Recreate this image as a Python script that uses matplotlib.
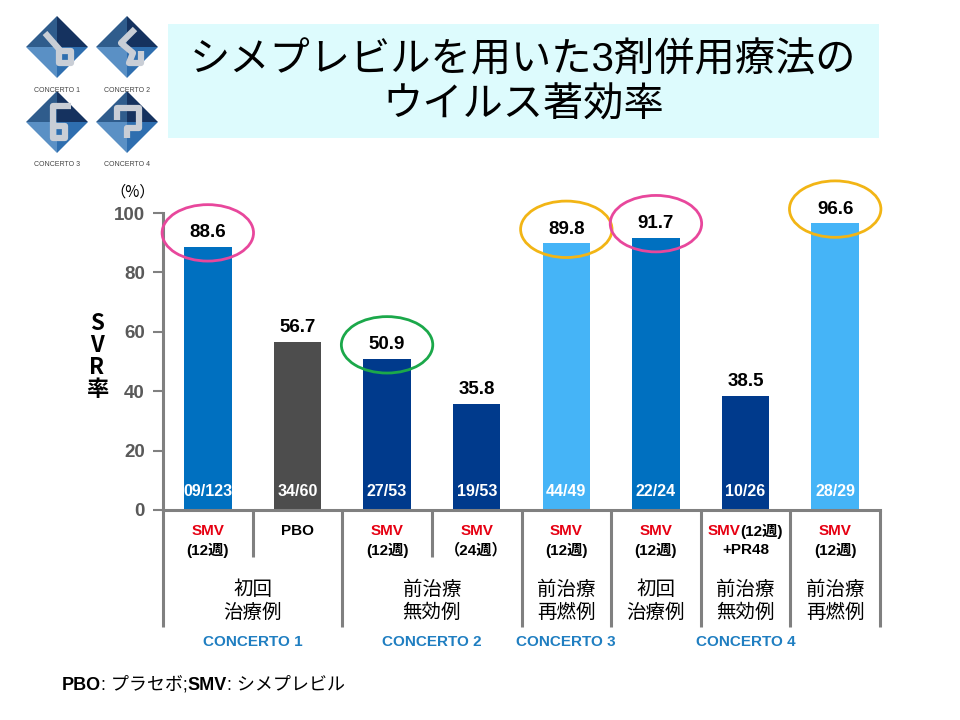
import numpy as np
import matplotlib.pyplot as plt
from matplotlib.patches import Ellipse, Rectangle, Polygon

plt.rcParams['font.family'] = ['Liberation Sans', 'Noto Sans CJK JP']

# data
values = [88.6, 56.7, 50.9, 35.8, 89.8, 91.7, 38.5, 96.6]
fractions = ['09/123', '34/60', '27/53', '19/53', '44/49', '22/24', '10/26', '28/29']
bar_colors = ['#0070C0', '#4D4D4D', '#003A8C', '#003A8C', '#45B4F7', '#0070C0', '#003A8C', '#45B4F7']
drug_top = ['SMV', 'PBO', 'SMV', 'SMV', 'SMV', 'SMV', 'SMV(12週)', 'SMV']
drug_bottom = ['(12週)', '', '(12週)', '（24週）', '(12週)', '(12週)', '+PR48', '(12週)']
groups = ['初回\n治療例', '前治療\n無効例', '前治療\n再燃例', '初回\n治療例', '前治療\n無効例', '前治療\n再燃例']
group_span = [(0, 2), (2, 4), (4, 5), (5, 6), (6, 7), (7, 8)]
studies = ['CONCERTO 1', 'CONCERTO 2', 'CONCERTO 3', 'CONCERTO 4']
study_span = [(0, 2), (2, 4), (4, 5), (5, 8)]
circled = {0: '#E8479C', 2: '#1BA84A', 4: '#F2B515', 5: '#E8479C', 7: '#F2B515'}

W, H = 960, 720
RED = '#E60012'
GREY = '#808080'
BLUE_TXT = '#1F7EC1'

fig = plt.figure(figsize=(W / 100, H / 100), dpi=100)

# title box
fig.patches.append(Rectangle((168 / W, 1 - 138 / H), 711 / W, 114 / H,
                             transform=fig.transFigure, facecolor='#DDFBFD', edgecolor='none', zorder=0))
fig.text(523 / W, 1 - 60 / H, 'シメプレビルを用いた3剤併用療法の', ha='center', va='center', fontsize=29)
fig.text(523 / W, 1 - 106 / H, 'ウイルス著効率', ha='center', va='center', fontsize=29)

# logos
lax = fig.add_axes([0, 1 - 180 / H, 170 / W, 180 / H])
lax.set_xlim(0, 170)
lax.set_ylim(180, 0)
lax.axis('off')
logo_pos = [(57, 47, 'CONCERTO 1'), (127, 47, 'CONCERTO 2'), (57, 122, 'CONCERTO 3'), (127, 122, 'CONCERTO 4')]
glyphs = [
    [(-12, -14), (2, 2), (2, 16), (14, 16), (14, 4), (2, 4)],
    [(8, -18), (-6, -4), (6, 6), (2, 16), (14, 16), (14, 4)],
    [(14, -16), (-4, -16), (-4, 16), (8, 16), (8, 4), (-4, 4)],
    [(-10, -2), (-10, -14), (12, -14), (12, 6), (0, 6), (0, 16)],
]
for (cx, cy, name), g in zip(logo_pos, glyphs):
    r = 31
    top, right, bot, left, c = (cx, cy - r), (cx + r, cy), (cx, cy + r), (cx - r, cy), (cx, cy)
    for tri, col in [((left, top, c), '#2F5C8C'), ((top, right, c), '#15325F'),
                     ((left, bot, c), '#5A90C5'), ((bot, right, c), '#2E6EAF')]:
        lax.add_patch(Polygon(tri, closed=True, facecolor=col, edgecolor='none'))
    gx = [cx + p[0] for p in g]
    gy = [cy + p[1] for p in g]
    lax.plot(gx, gy, color='#C9CED6', lw=4.5, solid_capstyle='butt')
    lax.text(cx, cy + 43, name, ha='center', va='center', fontsize=5, color='#444444')

# main axes
ax = fig.add_axes([163 / W, 1 - 510 / H, 717 / W, 297 / H])
x = np.arange(len(values)) + 0.5
ax.bar(x, values, width=0.53, color=bar_colors, zorder=2)
ax.set_xlim(0, 8)
ax.set_ylim(0, 100)
ax.set_yticks(range(0, 101, 20))
ax.set_xticks([])
for s in ['top', 'right']:
    ax.spines[s].set_visible(False)
for s in ['left', 'bottom']:
    ax.spines[s].set_color(GREY)
    ax.spines[s].set_linewidth(2.2)
ax.tick_params(axis='y', direction='out', length=7, width=1.5, color=GREY,
               labelsize=13.5, labelcolor='#595959', pad=6)
for t in ax.get_yticklabels():
    t.set_fontweight('bold')


def ypx(p):
    # pixel row in the figure -> data y of main axes
    return (510 - p) * 100 / 297


# value labels and circles
for i, (xi, v) in enumerate(zip(x, values)):
    ly = v + 14 * 100 / 297
    ax.text(xi, ly, f'{v}', ha='center', va='center', fontsize=13.5, fontweight='bold', zorder=4)
    if i in circled:
        ax.add_patch(Ellipse((xi, ly), 1.02, 19, fill=False, edgecolor=circled[i], lw=2,
                             clip_on=False, zorder=5))
    ax.text(xi, ypx(492), fractions[i], ha='center', va='center', fontsize=11.5,
            fontweight='bold', color='white', zorder=4)

# table below axis
for b in range(0, 9):
    bottom = ypx(557) if b in (1, 3) else ypx(627)
    ax.plot([b, b], [0, bottom], color=GREY, lw=2.2, clip_on=False, solid_capstyle='butt')

for xi, top, bot in zip(x, drug_top, drug_bottom):
    if top == 'PBO':
        ax.text(xi, ypx(531), top, ha='center', va='center', fontsize=11, fontweight='bold')
    elif top == 'SMV':
        ax.text(xi, ypx(531), top, ha='center', va='center', fontsize=11, fontweight='bold', color=RED)
    else:
        ax.text(xi - 0.06, ypx(531), 'SMV', ha='right', va='center', fontsize=11, fontweight='bold', color=RED)
        ax.text(xi - 0.06, ypx(531), top[3:], ha='left', va='center', fontsize=11, fontweight='bold')
    if bot:
        ax.text(xi, ypx(550), bot, ha='center', va='center', fontsize=11, fontweight='bold')

for g, (a, b) in zip(groups, group_span):
    ax.text((a + b) / 2, ypx(601), g, ha='center', va='center', fontsize=14,
            linespacing=1.15, family=['Noto Sans CJK JP'])

for s, (a, b) in zip(studies, study_span):
    ax.text((a + b) / 2, ypx(642), s, ha='center', va='center', fontsize=11,
            fontweight='bold', color=BLUE_TXT)

# y label
for ch, py in zip(['S', 'V', 'R', '率'], [323, 345, 367, 390]):
    fig.text(97 / W, 1 - py / H, ch, ha='center', va='center', fontsize=16,
             family=['Noto Sans CJK JP'], fontweight='bold')
fig.text(133 / W, 1 - 192 / H, '（%）', ha='center', va='center', fontsize=11,
         family=['Noto Sans CJK JP'])

# footnote with mixed weights
pieces = [('PBO', 'bold'), (': プラセボ;', 'normal'), ('SMV', 'bold'), (': シメプレビル', 'normal')]
fig.canvas.draw()
renderer = fig.canvas.get_renderer()
xpos = 62
for txt, wt in pieces:
    t = fig.text(xpos / W, 1 - 685 / H, txt, ha='left', va='center', fontsize=13, fontweight=wt)
    xpos += t.get_window_extent(renderer).width

fig.savefig('out.png', dpi=100)
